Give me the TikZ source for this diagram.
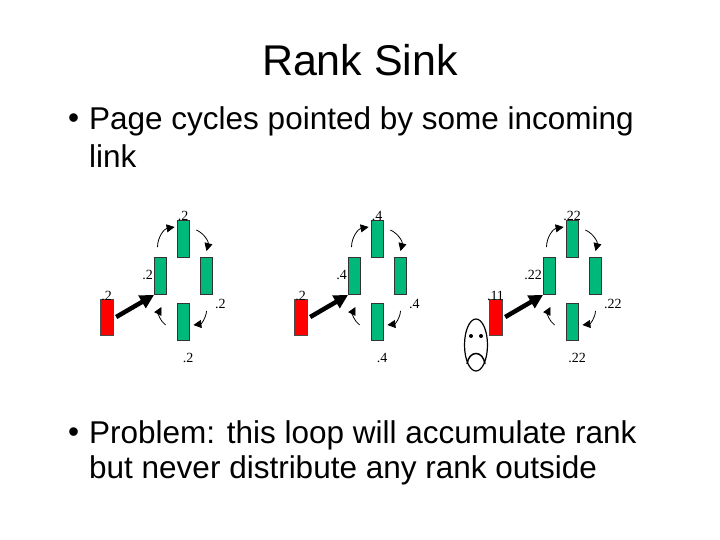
\documentclass[tikz,border=0pt]{standalone}
\usepackage{fontspec}
\setmainfont{Liberation Sans}
\newfontfamily\tms{Liberation Serif}
\usetikzlibrary{arrows.meta,calc}
\begin{document}
\begin{tikzpicture}[x=1pt,y=-1pt,
  red box/.style={draw=black!70,fill=red,minimum width=13pt,minimum height=36pt,inner sep=0pt},
  green box/.style={draw=black!80,line width=0.8pt,fill=teal!70!green!80!cyan,minimum width=12pt,minimum height=37pt,inner sep=0pt},
  lbl/.style={font=\tms\fontsize{14}{14}\selectfont,inner sep=0pt},
  big arrow/.style={line width=4.5pt,-{Triangle[length=14pt,width=14pt]}},
  cyc/.style={line width=0.8pt,-{Triangle[length=8pt,width=8pt]}},
  body/.style={font=\fontsize{31.5}{38}\selectfont,anchor=west,inner sep=0pt}]
\useasboundingbox (0,0) rectangle (720,540);
\fill[white] (0,0) rectangle (720,540);
\node[font=\fontsize{43}{43}\selectfont] (title) at (360,60) {Rank Sink};
\node[body] (b1) at (68,121) {•};
\node[body] (t1) at (89,121) {Page cycles pointed by some incoming};
\node[body] (t1b) at (89,156) {link};
\node[body] (b2) at (68,435) {•};
\node[body] (t2) at (89,435) {Problem: this loop will accumulate rank};
\node[body] (t2b) at (89,470) {but never distribute any rank outside};
\foreach \dx/\g/\r/\lr/\rl in {0/{.2}/{.2}/{.2}/{.2}, 194/{.4}/{.2}/{.4}/{.4}, 389/{.22}/{.11}/{.22}/{.22}}{
  \begin{scope}[xshift=\dx]
  \node[red box] (r) at (106.5,317) {};
  \node[green box] (L) at (160.5,276) {};
  \node[green box] (T) at (183,239) {};
  \node[green box] (R) at (206.5,276) {};
  \node[green box] (B) at (183,322) {};
  \node[lbl,anchor=south] (lr) at (r.north) [yshift=-2pt] {\r};
  \node[lbl,anchor=south east] (lL) at (L.west) [yshift=-4pt,xshift=-1pt] {\lr};
  \node[lbl,anchor=south] (lT) at (T.north) [yshift=-1pt] {\g};
  \node[lbl,anchor=west] (lR) at (R.south east) [yshift=-9pt,xshift=2pt] {\rl};
  \node[lbl] (lB) at (188,358) {\g};
  \draw[big arrow] (r.east) ++(3,0) coordinate (s) (s) -- (L.south west);
  \draw[cyc] (L.north) ++(-3,-10) coordinate (c1) (c1) to[bend left=40] ($(T.west)+(-2,-12)$);
  \draw[cyc] (T.east) ++(7,-9) coordinate (c2) (c2) to[bend left=40] ($(R.north)+(0,-6)$);
  \draw[cyc] (R.south) ++(0,16) coordinate (c3) (c3) to[bend left=40] ($(B.east)+(4,3)$);
  \draw[cyc] (B.west) ++(-11,3) coordinate (c4) (c4) to[bend left=40] ($(L.south)+(1,12)$);
  \end{scope}}
\draw[line width=1.2pt] (476,345) ellipse (11.5pt and 26pt);
\fill (471,336) circle (2pt) (481,336) circle (2pt);
\draw[line width=1.5pt] (467,364) .. controls (469,350) and (483,350) .. (485,364);
\end{tikzpicture}
\end{document}
